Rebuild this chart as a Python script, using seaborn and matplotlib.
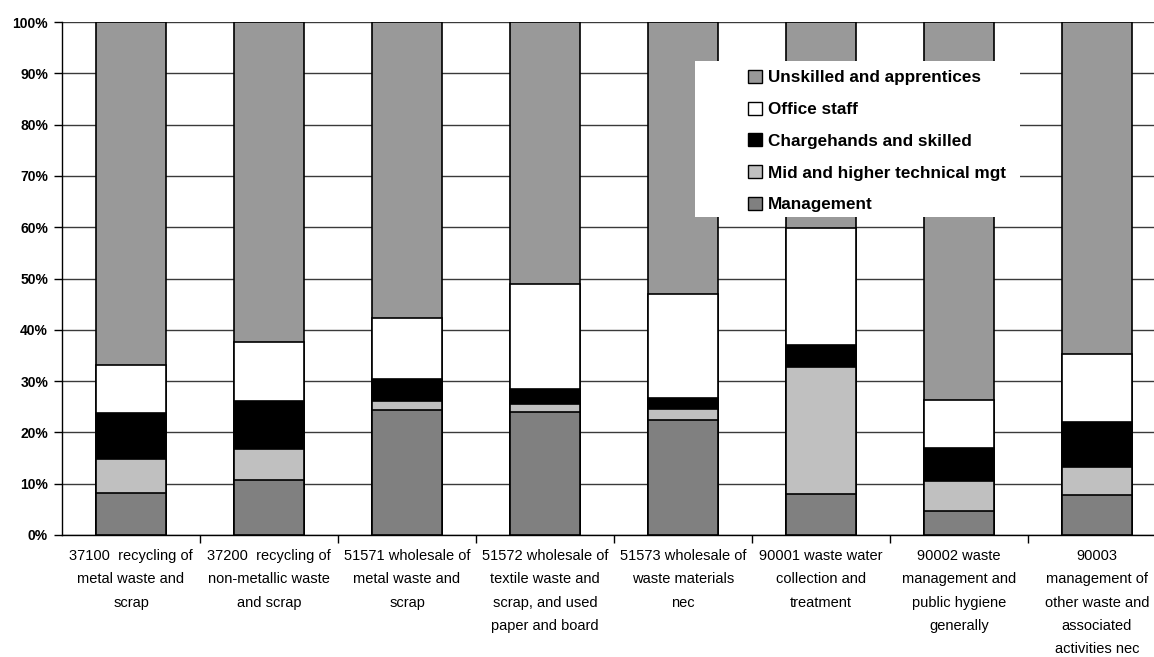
import numpy as np
import pandas as pd
import matplotlib
matplotlib.use("Agg")
import matplotlib.pyplot as plt
import seaborn as sns
from matplotlib.patches import Patch, Rectangle

categories = [
    "37100  recycling of\nmetal waste and\nscrap",
    "37200  recycling of\nnon-metallic waste\nand scrap",
    "51571 wholesale of\nmetal waste and\nscrap",
    "51572 wholesale of\ntextile waste and\nscrap, and used\npaper and board",
    "51573 wholesale of\nwaste materials\nnec",
    "90001 waste water\ncollection and\ntreatment",
    "90002 waste\nmanagement and\npublic hygiene\ngenerally",
    "90003\nmanagement of\nother waste and\nassociated\nactivities nec",
]

# Shares (%) of each occupational group, bottom to top
management = [8.1, 10.7, 24.4, 24.0, 22.4, 7.9, 4.7, 7.7]
mid_technical = [6.8, 6.1, 1.7, 1.5, 2.1, 24.8, 5.8, 5.6]
chargehands = [8.9, 9.4, 4.3, 2.9, 2.2, 4.4, 6.5, 8.8]
office_staff = [9.3, 11.4, 11.9, 20.5, 20.3, 22.7, 9.4, 13.2]
unskilled = [100 - a - b - c - d for a, b, c, d in
             zip(management, mid_technical, chargehands, office_staff)]

series_names = ["Management", "Mid and higher technical mgt",
                "Chargehands and skilled", "Office staff",
                "Unskilled and apprentices"]
series_values = [management, mid_technical, chargehands, office_staff, unskilled]
series_colors = ["#808080", "#c0c0c0", "#000000", "#ffffff", "#999999"]

plt.rcParams["font.family"] = ["Liberation Sans", "DejaVu Sans"]

W, H = 1154, 657
fig = plt.figure(figsize=(W / 100, H / 100), dpi=100)
ax = fig.add_axes([62 / W, 1 - 535 / H, 1104 / W, 513 / H])

cum = np.cumsum(np.array(series_values), axis=0)
# Draw cumulative stacks from the top layer down so each layer shows its own band
for name, color, tops in reversed(list(zip(series_names, series_colors, cum))):
    df = pd.DataFrame({"cat": categories, "val": tops})
    sns.barplot(data=df, x="cat", y="val", color=color, saturation=1,
                width=0.507, edgecolor="black", linewidth=1.2, ax=ax, zorder=3)

ax.set_xlim(-0.5, len(categories) - 0.5)
ax.set_ylim(0, 100)
ax.set_yticks(np.arange(0, 101, 10))
ax.set_yticklabels([f"{v}%" for v in range(0, 101, 10)],
                   fontsize=10, fontweight="bold")
ax.set_xticks(range(len(categories)))
ax.set_xticklabels(categories, fontsize=10.5, linespacing=1.85)
ax.tick_params(axis="x", length=0, pad=10)
ax.set_xticks(np.arange(0.5, len(categories) - 0.5, 1), minor=True)
ax.tick_params(axis="x", which="minor", length=6, color="black", width=1)
ax.tick_params(axis="y", length=6, color="black", width=1, pad=4)
ax.set_xlabel("")
ax.set_ylabel("")

ax.yaxis.grid(True, color="#3a3a3a", linewidth=1, zorder=0)
ax.xaxis.grid(False)
ax.set_axisbelow(True)
for side in ["top", "right"]:
    ax.spines[side].set_visible(False)
for side in ["left", "bottom"]:
    ax.spines[side].set_color("black")
    ax.spines[side].set_linewidth(1)
ax.set_facecolor("white")

# White legend panel
fig.add_artist(Rectangle((695 / W, 1 - 217 / H), 325 / W, 156 / H,
                         transform=fig.transFigure, facecolor="white",
                         edgecolor="none", zorder=4))

handles = [Patch(facecolor=c, edgecolor="black", linewidth=1, label=n)
           for n, c in zip(series_names, series_colors)][::-1]
leg = fig.legend(handles=handles, loc="upper left",
                 bbox_to_anchor=(748 / W, 1 - 70 / H),
                 frameon=False,
                 prop={"weight": "bold", "size": 12.3},
                 handlelength=0.8, handleheight=0.8, handletextpad=0.35,
                 labelspacing=0.95, borderpad=0, borderaxespad=0)
leg.set_zorder(5)

fig.savefig("out.png", dpi=100, facecolor="white")
